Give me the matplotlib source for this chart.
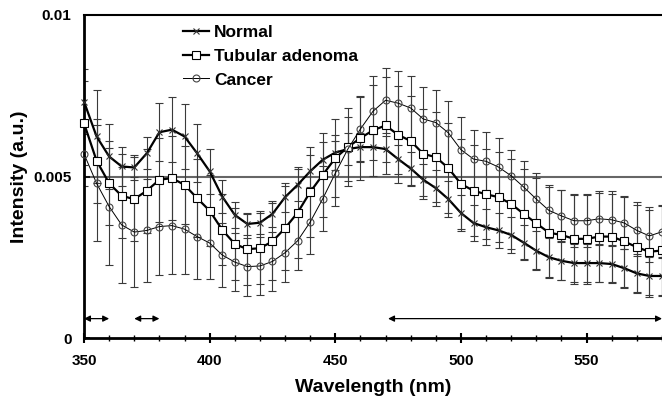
import matplotlib
matplotlib.use('Agg')
import matplotlib.pyplot as plt

plt.rcParams['font.family'] = ['Liberation Sans', 'DejaVu Sans']
plt.rcParams['font.weight'] = 'bold'

# wavelength grid (nm), 5 nm steps
wavelength = list(range(350, 581, 5))

# mean intensities, in units of 1e-3 a.u.
normal = [7.32, 6.24, 5.62, 5.31, 5.28, 5.72, 6.37,
          6.45, 6.24, 5.72, 5.16, 4.38, 3.81, 3.53, 3.57,
          3.84, 4.36, 4.74, 5.16, 5.52, 5.74, 5.85, 5.91,
          5.91, 5.85, 5.54, 5.25, 4.90, 4.64, 4.30, 3.87,
          3.56, 3.43, 3.33, 3.19, 2.95, 2.70, 2.50, 2.39,
          2.32, 2.32, 2.32, 2.29, 2.16, 2.00, 1.92, 1.92]
tubular = [6.65, 5.49, 4.79, 4.40, 4.30, 4.56, 4.90,
           4.95, 4.74, 4.33, 3.94, 3.35, 2.91, 2.75, 2.78,
           2.99, 3.40, 3.88, 4.52, 5.05, 5.57, 5.91, 6.19,
           6.43, 6.58, 6.29, 6.10, 5.70, 5.60, 5.26, 4.77,
           4.56, 4.45, 4.36, 4.15, 3.84, 3.55, 3.26, 3.19,
           3.07, 3.07, 3.14, 3.14, 2.99, 2.81, 2.67, 2.71]
cancer = [5.70, 4.79, 4.07, 3.50, 3.28, 3.33, 3.45,
          3.48, 3.37, 3.14, 2.94, 2.57, 2.35, 2.21, 2.23,
          2.37, 2.64, 3.01, 3.59, 4.31, 5.10, 5.85, 6.47,
          7.02, 7.36, 7.27, 7.12, 6.78, 6.67, 6.35, 5.83,
          5.54, 5.47, 5.29, 5.02, 4.67, 4.30, 3.95, 3.78,
          3.63, 3.63, 3.69, 3.66, 3.56, 3.33, 3.16, 3.29]

# standard deviations (rough reads), same units
normal_err = [1.0, 1.45, 1.0, 0.6, 0.4, 0.5, 0.9,
              1.0, 1.0, 0.9, 0.7, 0.5, 0.4, 0.35, 0.35,
              0.4, 0.45, 0.5, 0.5, 0.55, 0.55, 0.5, 0.45,
              0.4, 0.4, 0.45, 0.5, 0.5, 0.55, 0.55, 0.55,
              0.55, 0.55, 0.55, 0.55, 0.55, 0.6, 0.6, 0.6,
              0.6, 0.6, 0.6, 0.6, 0.6, 0.6, 0.6, 0.6]
tubular_err = [1.3, 1.3, 1.3, 1.3, 1.3, 1.3, 1.3,
               1.3, 1.2, 1.2, 1.1, 1.1, 1.1, 1.1, 1.1,
               1.2, 1.3, 1.4, 1.4, 1.3, 1.2, 1.2, 1.3,
               1.4, 1.5, 1.5, 1.4, 1.4, 1.4, 1.4, 1.4,
               1.4, 1.4, 1.4, 1.4, 1.4, 1.4, 1.4, 1.4,
               1.4, 1.4, 1.4, 1.4, 1.4, 1.4, 1.4, 1.4]
cancer_err = [1.0, 1.8, 1.8, 1.8, 1.7, 1.6, 1.5,
              1.5, 1.4, 1.3, 1.1, 1.0, 0.9, 0.9, 0.9,
              0.9, 0.9, 0.9, 1.0, 1.0, 1.0, 1.0, 1.0,
              1.1, 1.0, 1.0, 1.0, 1.0, 1.0, 1.0, 1.0,
              0.9, 0.9, 0.9, 0.8, 0.8, 0.8, 0.8, 0.8,
              0.8, 0.8, 0.8, 0.8, 0.8, 0.8, 0.8, 0.8]

# wavelength ranges marked by double arrows at the bottom
arrow_ranges = [(350, 360), (370, 380), (471, 580)]
arrow_level = 0.6

scale = 1e-3
fig = plt.figure(figsize=(6.62, 4.03), dpi=100)
ax = fig.add_axes([84 / 662, 65 / 403, 578 / 662, 323 / 403])

series = [
    ('Normal', normal, normal_err, dict(marker='x', ms=4.5, mfc='none', mec='#333333', mew=0.8, lw=1.6)),
    ('Tubular adenoma', tubular, tubular_err, dict(marker='s', ms=5.5, mfc='white', mec='black', mew=0.8, lw=1.6)),
    ('Cancer', cancer, cancer_err, dict(marker='o', ms=5, mfc='none', mec='#444444', mew=0.8, lw=0.7)),
]

for name, vals, errs, style in series:
    y = [v * scale for v in vals]
    e = [v * scale for v in errs]
    ax.errorbar(wavelength, y, yerr=e, fmt='none', ecolor='#3a3a3a', elinewidth=0.8,
                capsize=3, capthick=0.8, zorder=1)
for name, vals, errs, style in series:
    y = [v * scale for v in vals]
    ax.plot(wavelength, y, color='black', label=name, zorder=3, clip_on=False, **style)

ax.axhline(0.005, color='#666666', lw=1.5, zorder=0)

for a, b in arrow_ranges:
    ax.annotate('', xy=(a, arrow_level * scale), xytext=(b, arrow_level * scale),
                arrowprops=dict(arrowstyle='<|-|>', color='black', lw=0.9,
                                mutation_scale=9, shrinkA=0, shrinkB=0))

ax.set_xlim(350, 580)
ax.set_ylim(0, 0.01)
ax.set_xticks([350, 400, 450, 500, 550])
ax.set_xticks(range(350, 581, 10), minor=True)
ax.set_yticks([0, 0.005, 0.01])
ax.set_yticklabels(['0', '0.005', '0.01'])

ax.spines['right'].set_visible(False)
ax.spines['top'].set_linewidth(1.5)
ax.spines['left'].set_linewidth(2)
ax.spines['bottom'].set_linewidth(2)

ax.tick_params(axis='x', which='major', direction='inout', length=7, width=1.5,
               labelsize=11, pad=8)
ax.tick_params(axis='x', which='minor', direction='inout', length=4, width=1)
ax.tick_params(axis='y', direction='in', length=4, width=1.2, labelsize=11, pad=9)

ax.set_xlabel('Wavelength (nm)', fontsize=14, fontweight='bold', labelpad=8)
ax.set_ylabel('Intensity (a.u.)', fontsize=14, fontweight='bold', labelpad=4)

ax.legend(loc='upper left', bbox_to_anchor=((183 - 84) / 578, 0.97), frameon=False,
          fontsize=12.5, borderpad=0, borderaxespad=0, handlelength=1.5,
          handletextpad=0.3, labelspacing=0.5)

fig.savefig('out.png', dpi=100)
